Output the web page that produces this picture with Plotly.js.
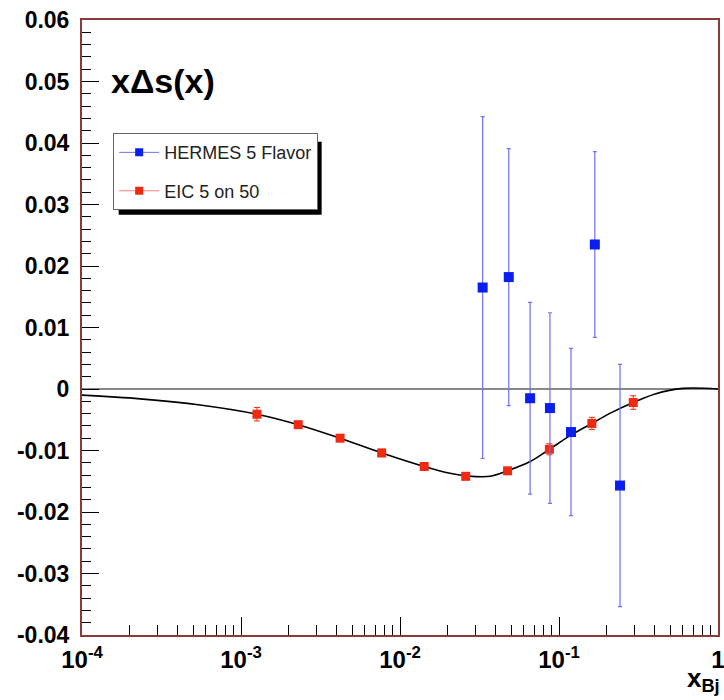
<!DOCTYPE html>
<html>
<head>
<meta charset="utf-8">
<script src="https://cdn.plot.ly/plotly-3.0.1.min.js"></script>
<style>html,body{margin:0;padding:0;background:#fff;}#chart{width:724px;height:700px;}</style>
</head>
<body>
<div id="chart"></div>
<script>
// HERMES 5 Flavor points
const hermesX = [0.0331, 0.0483, 0.0658, 0.0877, 0.119, 0.168, 0.242];
const hermesY = [0.0165, 0.0182, -0.0015, -0.0031, -0.0070, 0.0235, -0.0157];
const hermesErr = [0.0278, 0.0209, 0.0156, 0.0155, 0.0136, 0.0151, 0.0197];

// EIC 5 on 50 pseudo-data
const eicX = [0.00126, 0.00229, 0.0042, 0.00767, 0.0142, 0.0259, 0.0475, 0.087, 0.161, 0.293];
const eicY = [-0.0041, -0.0058, -0.0080, -0.0104, -0.0126, -0.0142, -0.0133, -0.0098, -0.0056, -0.0022];
const eicErr = [0.0011, 0.0004, 0.0004, 0.0006, 0.0005, 0.0004, 0.0005, 0.0009, 0.0010, 0.0011];

// Model curve
const curveX = [1e-4, 2.32e-4, 5.53e-4, 1.26e-3, 2.29e-3, 4.2e-3, 7.7e-3, 1.42e-2, 2.06e-2, 2.59e-2, 3.68e-2, 4.75e-2, 6.58e-2, 8.7e-2, 0.119, 0.161, 0.215, 0.293, 0.402, 0.60, 1.0];
const curveY = [-0.0010, -0.0016, -0.0026, -0.0041, -0.0058, -0.0080, -0.0104, -0.0126, -0.0137, -0.0141, -0.0142, -0.0133, -0.0118, -0.0098, -0.0075, -0.0056, -0.0038, -0.0022, -0.0008, 0.0001, 0.0];

// Tick labels
const xTickVals = [1e-4, 1e-3, 1e-2, 1e-1, 1];
const xTickText = ['10<sup>-4</sup>', '10<sup>-3</sup>', '10<sup>-2</sup>', '10<sup>-1</sup>', '1'];
const yTickVals = [-0.04, -0.03, -0.02, -0.01, 0, 0.01, 0.02, 0.03, 0.04, 0.05, 0.06];
const yTickText = ['-0.04', '-0.03', '-0.02', '-0.01', '0', '0.01', '0.02', '0.03', '0.04', '0.05', '0.06'];

const seriesNames = ['HERMES 5 Flavor', 'EIC 5 on 50'];

const blue = '#0a1ef0';
const blueErr = '#7070f0';
const red = '#f02a10';

const traces = [
  {x: curveX, y: curveY, mode: 'lines', line: {color: '#000', width: 1.6, shape: 'spline', smoothing: 1}, showlegend: false, hoverinfo: 'skip'},
  {x: eicX, y: eicY, mode: 'markers', marker: {symbol: 'square', size: 9, color: red},
   error_y: {type: 'data', array: eicErr, visible: true, color: red, thickness: 1, width: 3}, showlegend: false},
  {x: hermesX, y: hermesY, mode: 'markers', marker: {symbol: 'square', size: 10, color: blue},
   error_y: {type: 'data', array: hermesErr, visible: true, color: blueErr, thickness: 1.2, width: 2}, showlegend: false},
  {x: [null], y: [null], mode: 'lines+markers', name: seriesNames[0], legendgroup: 'a',
   line: {color: blueErr, width: 1}, marker: {symbol: 'square', size: 8, color: blue}},
  {x: [null], y: [null], mode: 'lines+markers', name: seriesNames[1], legendgroup: 'b',
   line: {color: '#f08080', width: 1}, marker: {symbol: 'square', size: 8, color: red}}
];

const tickFont = {family: 'Liberation Sans, Arial, sans-serif', size: 23, color: '#000', weight: 'bold'};

const layout = {
  width: 724, height: 700,
  margin: {l: 82, r: 6, t: 20, b: 65},
  paper_bgcolor: '#fff', plot_bgcolor: '#fff',
  showlegend: true,
  legend: {
    x: 0.049, y: 0.816, xanchor: 'left', yanchor: 'top',
    bgcolor: '#fff', bordercolor: '#666', borderwidth: 1,
    font: {family: 'Liberation Sans, Arial, sans-serif', size: 18, color: '#222'},
    traceorder: 'grouped', tracegroupgap: 12, itemwidth: 40
  },
  xaxis: {
    type: 'log', range: [-4, 0],
    tickvals: xTickVals, ticktext: xTickText,
    ticks: 'inside', ticklen: 18, tickcolor: '#000', tickwidth: 1,
    minor: {ticks: 'inside', ticklen: 10, tickcolor: '#000', tickwidth: 1, dtick: 'D1', showgrid: false},
    showgrid: false, zeroline: false,
    showline: true, linecolor: '#8b3a3a', linewidth: 2, mirror: true,
    tickfont: {family: 'Liberation Sans, Arial, sans-serif', size: 24, color: '#000', weight: 'bold'},
    ticklabelstandoff: 2, ticklabeloverflow: 'allow'
  },
  yaxis: {
    range: [-0.04, 0.06],
    tickvals: yTickVals, ticktext: yTickText,
    ticks: 'inside', ticklen: 17, tickcolor: '#000', tickwidth: 1,
    minor: {ticks: 'inside', ticklen: 9, tickcolor: '#000', tickwidth: 1, dtick: 0.002, showgrid: false},
    showgrid: false,
    zeroline: true, zerolinecolor: '#888', zerolinewidth: 1.5,
    showline: true, linecolor: '#8b3a3a', linewidth: 2, mirror: true,
    tickfont: tickFont, ticklabelstandoff: 6
  },
  shapes: [],
  annotations: [
    {xref: 'paper', yref: 'paper', x: 0.043, y: 0.90, xanchor: 'left', yanchor: 'middle', showarrow: false,
     text: 'xΔs(x)', font: {family: 'Liberation Sans, Arial, sans-serif', size: 34, color: '#000', weight: 'bold'}},
    {xref: 'paper', yref: 'paper', x: 1.007, y: -0.103, xanchor: 'right', yanchor: 'bottom', showarrow: false,
     text: 'x<sub>Bj</sub>', font: {family: 'Liberation Sans, Arial, sans-serif', size: 26, color: '#000', weight: 'bold'}}
  ]
};

Plotly.newPlot('chart', traces, layout, {displayModeBar: false, staticPlot: true}).then(function (gd) {
  // drop shadow behind the legend box, sized from the rendered legend
  const bg = gd.querySelector('.legend .bg');
  if (!bg) return;
  const r = bg.getBoundingClientRect();
  const c = gd.getBoundingClientRect();
  const fs = gd._fullLayout._size;
  const toX = function (px) { return (px - c.left - fs.l) / fs.w; };
  const toY = function (py) { return 1 - (py - c.top - fs.t) / fs.h; };
  Plotly.relayout(gd, {shapes: [{
    type: 'rect', xref: 'paper', yref: 'paper',
    x0: toX(r.left + 5), x1: toX(r.right + 4), y0: toY(r.bottom + 5), y1: toY(r.top + 8),
    fillcolor: '#000', line: {width: 0}, layer: 'above'
  }]});
});
</script>
</body>
</html>
